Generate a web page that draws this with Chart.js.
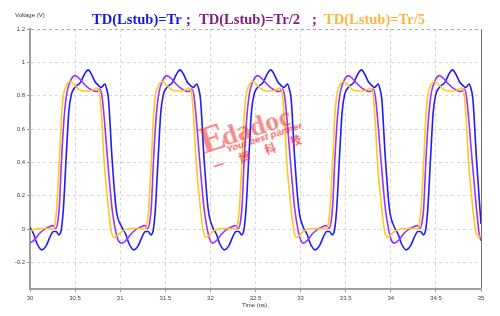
<!DOCTYPE html>
<html>
<head>
<meta charset="utf-8">
<script src="https://cdn.jsdelivr.net/npm/chart.js@4.4.0/dist/chart.umd.min.js"></script>
<style>
	html, body { margin: 0; padding: 0; background: #fff; }
	#wrap { position: relative; width: 500px; height: 316px; overflow: hidden; }
	#chart { position: absolute; left: 0; top: 0; }
	.title { position: absolute; top: 11px; font: bold 15px 'Liberation Serif', serif; white-space: pre; transform-origin: 0 0; transform: scaleX(0.97); }
	.axis-label { position: absolute; font: 6px 'Liberation Sans', sans-serif; color: #333; white-space: nowrap; }
	#mark { position: absolute; left: 203px; top: 151px; width: 0; height: 0; transform: rotate(-18deg); transform-origin: 0 0; color: rgba(236, 45, 45, 0.55); white-space: nowrap; line-height: 1; }
	#mark span { position: absolute; }
	#mark .big { left: 0; top: -32px; font: bold 38px 'Liberation Serif', serif; }
	#mark .word { left: 22px; top: -23px; font: bold 28px 'Liberation Serif', serif; }
	#mark .sub { left: 23px; top: 0; font: italic bold 9.5px 'Liberation Sans', sans-serif; color: rgba(236, 45, 45, 0.75); }
	#mark .cn { left: 5px; top: 10px; font: bold 11px 'Noto Sans CJK SC', sans-serif; letter-spacing: 16px; color: rgba(236, 45, 45, 0.75); }
</style>
</head>
<body>
<div id="wrap">
	<canvas id="chart" width="500" height="316"></canvas>
	<div class="axis-label" style="left: 15px; top: 12px;">Voltage (V)</div>
	<div class="axis-label" style="left: 242px; top: 302px;">Time (ns)</div>
	<div class="title" style="left: 92px; color: #1818e0;">TD(Lstub)=Tr</div>
	<div class="title" style="left: 186px; color: #1818e0;">;</div>
	<div class="title" style="left: 199px; color: #861a86;">TD(Lstub)=Tr/2</div>
	<div class="title" style="left: 312px; color: #861a86;">;</div>
	<div class="title" style="left: 324px; color: #ffb43c;">TD(Lstub)=Tr/5</div>
	<div id="mark"><span class="big">E</span><span class="word">dadoc</span><span class="sub">Your best partner</span><span class="cn">一博科技</span></div>
</div>
<script>
// tick positions
const xTicks = [30, 30.5, 31, 31.5, 32, 32.5, 33, 33.5, 34, 34.5, 35];
const yTicks = [-0.2, 0, 0.2, 0.4, 0.6, 0.8, 1, 1.2];

// [time ns, voltage V]
const blueWave = [
	[30.00, 0.01], [30.04, -0.03], [30.08, -0.09], [30.13, -0.125], [30.18, -0.10], [30.22, -0.05], [30.26, -0.015], [30.29, -0.015], [30.32, -0.035], [30.345, -0.01],
	[30.37, 0.12], [30.40, 0.42], [30.43, 0.70], [30.46, 0.81], [30.50, 0.85], [30.56, 0.88], [30.61, 0.935], [30.645, 0.955], [30.68, 0.93], [30.72, 0.885],
	[30.76, 0.86], [30.79, 0.85], [30.83, 0.87], [30.85, 0.84], [30.87, 0.78], [30.91, 0.42], [30.955, 0.12],
	[31.02, 0.01], [31.06, -0.03], [31.10, -0.09], [31.15, -0.125], [31.20, -0.10], [31.24, -0.05], [31.28, -0.015], [31.31, -0.015], [31.34, -0.035], [31.365, -0.01],
	[31.39, 0.12], [31.42, 0.42], [31.45, 0.70], [31.48, 0.81], [31.52, 0.85], [31.58, 0.88], [31.63, 0.935], [31.665, 0.955], [31.70, 0.93], [31.74, 0.885],
	[31.78, 0.86], [31.81, 0.85], [31.85, 0.87], [31.87, 0.84], [31.89, 0.78], [31.93, 0.42], [31.975, 0.12],
	[32.025, 0.01], [32.065, -0.03], [32.105, -0.09], [32.155, -0.125], [32.205, -0.10], [32.245, -0.05], [32.285, -0.015], [32.315, -0.015], [32.345, -0.035], [32.37, -0.01],
	[32.395, 0.12], [32.425, 0.42], [32.455, 0.70], [32.485, 0.81], [32.525, 0.85], [32.585, 0.88], [32.635, 0.935], [32.67, 0.955], [32.705, 0.93], [32.745, 0.885],
	[32.785, 0.86], [32.815, 0.85], [32.855, 0.87], [32.875, 0.84], [32.895, 0.78], [32.935, 0.42], [32.98, 0.12],
	[33.03, 0.01], [33.07, -0.03], [33.11, -0.09], [33.16, -0.125], [33.21, -0.10], [33.25, -0.05], [33.29, -0.015], [33.32, -0.015], [33.35, -0.035], [33.375, -0.01],
	[33.40, 0.12], [33.43, 0.42], [33.46, 0.70], [33.49, 0.81], [33.53, 0.85], [33.59, 0.88], [33.64, 0.935], [33.675, 0.955], [33.71, 0.93], [33.75, 0.885],
	[33.79, 0.86], [33.82, 0.85], [33.86, 0.87], [33.88, 0.84], [33.90, 0.78], [33.94, 0.42], [33.985, 0.12],
	[34.04, 0.01], [34.08, -0.03], [34.12, -0.09], [34.17, -0.125], [34.22, -0.10], [34.26, -0.05], [34.30, -0.015], [34.33, -0.015], [34.36, -0.035], [34.385, -0.01],
	[34.41, 0.12], [34.44, 0.42], [34.47, 0.70], [34.50, 0.81], [34.54, 0.85], [34.60, 0.88], [34.65, 0.935], [34.685, 0.955], [34.72, 0.93], [34.76, 0.885],
	[34.80, 0.86], [34.83, 0.85], [34.87, 0.87], [34.89, 0.84], [34.91, 0.78], [34.95, 0.42], [35.00, 0.03]
];

const purpleWave = [
	[30.00, -0.085], [30.05, -0.065], [30.10, -0.03], [30.15, -0.005], [30.20, 0.01], [30.255, 0.02], [30.285, 0.003], [30.31, 0.05], [30.326, 0.14], [30.35, 0.42],
	[30.38, 0.68], [30.41, 0.82], [30.45, 0.89], [30.50, 0.92], [30.55, 0.90], [30.60, 0.87], [30.65, 0.845], [30.70, 0.83], [30.74, 0.825], [30.775, 0.84],
	[30.80, 0.79], [30.83, 0.62], [30.86, 0.42], [30.91, 0.12], [30.945, 0.0], [30.975, -0.065],
	[31.02, -0.085], [31.07, -0.065], [31.12, -0.03], [31.17, -0.005], [31.22, 0.01], [31.275, 0.02], [31.305, 0.003], [31.33, 0.05], [31.346, 0.14], [31.37, 0.42],
	[31.40, 0.68], [31.43, 0.82], [31.47, 0.89], [31.52, 0.92], [31.57, 0.90], [31.62, 0.87], [31.67, 0.845], [31.72, 0.83], [31.76, 0.825], [31.795, 0.84],
	[31.82, 0.79], [31.85, 0.62], [31.88, 0.42], [31.93, 0.12], [31.965, 0.0], [31.995, -0.065],
	[32.025, -0.085], [32.075, -0.065], [32.125, -0.03], [32.175, -0.005], [32.225, 0.01], [32.28, 0.02], [32.31, 0.003], [32.335, 0.05], [32.351, 0.14], [32.375, 0.42],
	[32.405, 0.68], [32.435, 0.82], [32.475, 0.89], [32.525, 0.92], [32.575, 0.90], [32.625, 0.87], [32.675, 0.845], [32.725, 0.83], [32.765, 0.825], [32.80, 0.84],
	[32.825, 0.79], [32.855, 0.62], [32.885, 0.42], [32.935, 0.12], [32.97, 0.0], [33.00, -0.065],
	[33.03, -0.085], [33.08, -0.065], [33.13, -0.03], [33.18, -0.005], [33.23, 0.01], [33.285, 0.02], [33.315, 0.003], [33.34, 0.05], [33.356, 0.14], [33.38, 0.42],
	[33.41, 0.68], [33.44, 0.82], [33.48, 0.89], [33.53, 0.92], [33.58, 0.90], [33.63, 0.87], [33.68, 0.845], [33.73, 0.83], [33.77, 0.825], [33.805, 0.84],
	[33.83, 0.79], [33.86, 0.62], [33.89, 0.42], [33.94, 0.12], [33.975, 0.0], [34.005, -0.065],
	[34.04, -0.085], [34.09, -0.065], [34.14, -0.03], [34.19, -0.005], [34.24, 0.01], [34.295, 0.02], [34.325, 0.003], [34.35, 0.05], [34.366, 0.14], [34.39, 0.42],
	[34.42, 0.68], [34.45, 0.82], [34.49, 0.89], [34.54, 0.92], [34.59, 0.90], [34.64, 0.87], [34.69, 0.845], [34.74, 0.83], [34.78, 0.825], [34.815, 0.84],
	[34.84, 0.79], [34.87, 0.62], [34.90, 0.42], [34.95, 0.12], [34.98, -0.03], [35.00, -0.07]
];

const yellowWave = [
	[30.00, -0.015], [30.05, -0.002], [30.12, 0.003], [30.20, 0.003], [30.26, 0.0], [30.28, 0.04], [30.296, 0.12], [30.326, 0.42], [30.35, 0.68], [30.37, 0.80],
	[30.40, 0.86], [30.45, 0.885], [30.50, 0.86], [30.55, 0.835], [30.61, 0.828], [30.68, 0.83], [30.745, 0.845], [30.775, 0.80], [30.80, 0.62], [30.82, 0.42],
	[30.87, 0.12], [30.90, -0.01], [30.93, -0.05], [30.96, -0.04],
	[31.02, -0.015], [31.07, -0.002], [31.14, 0.003], [31.22, 0.003], [31.28, 0.0], [31.30, 0.04], [31.316, 0.12], [31.346, 0.42], [31.37, 0.68], [31.39, 0.80],
	[31.42, 0.86], [31.47, 0.885], [31.52, 0.86], [31.57, 0.835], [31.63, 0.828], [31.70, 0.83], [31.765, 0.845], [31.795, 0.80], [31.82, 0.62], [31.84, 0.42],
	[31.89, 0.12], [31.92, -0.01], [31.95, -0.05], [31.98, -0.04],
	[32.025, -0.015], [32.075, -0.002], [32.145, 0.003], [32.225, 0.003], [32.285, 0.0], [32.305, 0.04], [32.321, 0.12], [32.351, 0.42], [32.375, 0.68], [32.395, 0.80],
	[32.425, 0.86], [32.475, 0.885], [32.525, 0.86], [32.575, 0.835], [32.635, 0.828], [32.705, 0.83], [32.77, 0.845], [32.80, 0.80], [32.825, 0.62], [32.845, 0.42],
	[32.895, 0.12], [32.925, -0.01], [32.955, -0.05], [32.985, -0.04],
	[33.03, -0.015], [33.08, -0.002], [33.15, 0.003], [33.23, 0.003], [33.29, 0.0], [33.31, 0.04], [33.326, 0.12], [33.356, 0.42], [33.38, 0.68], [33.40, 0.80],
	[33.43, 0.86], [33.48, 0.885], [33.53, 0.86], [33.58, 0.835], [33.64, 0.828], [33.71, 0.83], [33.775, 0.845], [33.805, 0.80], [33.83, 0.62], [33.85, 0.42],
	[33.90, 0.12], [33.93, -0.01], [33.96, -0.05], [33.99, -0.04],
	[34.04, -0.015], [34.09, -0.002], [34.16, 0.003], [34.24, 0.003], [34.30, 0.0], [34.32, 0.04], [34.336, 0.12], [34.366, 0.42], [34.39, 0.68], [34.41, 0.80],
	[34.44, 0.86], [34.49, 0.885], [34.54, 0.86], [34.59, 0.835], [34.65, 0.828], [34.72, 0.83], [34.785, 0.845], [34.815, 0.80], [34.84, 0.62], [34.86, 0.42],
	[34.91, 0.12], [34.94, -0.01], [34.97, -0.05], [35.00, -0.04]
];

const tickFont = { family: 'Liberation Sans', size: 6 };

const config = {
	type: 'line',
	data: {
		datasets: [
			{ label: 'TD(Lstub)=Tr/5', data: yellowWave, borderColor: '#ffc81e' },
			{ label: 'TD(Lstub)=Tr/2', data: purpleWave, borderColor: '#9b33ff' },
			{ label: 'TD(Lstub)=Tr', data: blueWave, borderColor: '#1c1cff' }
		]
	},
	options: {
		responsive: false,
		animation: false,
		devicePixelRatio: 1,
		layout: { padding: { left: 0, right: 19, top: 29, bottom: 0 } },
		plugins: { legend: { display: false }, tooltip: { enabled: false } },
		elements: {
			point: { radius: 0 },
			line: { borderWidth: 1.6, cubicInterpolationMode: 'monotone', fill: false }
		},
		scales: {
			x: {
				type: 'linear',
				min: 30,
				max: 35,
				afterBuildTicks: (s) => { s.ticks = xTicks.map((v) => ({ value: v })); },
				afterFit: (s) => { s.height = 27; },
				ticks: { font: tickFont, color: '#444', padding: 3, maxRotation: 0, autoSkip: false, callback: (v) => String(v) },
				grid: {
					color: (c) => (c.tick && c.tick.value === 35 ? '#707070' : '#d6d6d6'),
					tickLength: 3,
					tickColor: '#999'
				},
				border: { color: '#a0a0a0', width: 2, dash: (c) => (c.tick && c.tick.value === 35 ? [] : [3, 3]) }
			},
			y: {
				min: -0.36,
				max: 1.2,
				afterBuildTicks: (s) => { s.ticks = yTicks.map((v) => ({ value: v })); },
				afterFit: (s) => { s.width = 30; },
				ticks: { font: tickFont, color: '#444', padding: 2, autoSkip: false, callback: (v) => String(v) },
				grid: {
					color: (c) => (c.tick && c.tick.value === 1.2 ? '#a8a8a8' : '#d6d6d6'),
					tickLength: 3,
					tickColor: '#999'
				},
				border: { color: '#a0a0a0', width: 2, dash: [3, 3] }
			}
		}
	}
};

new Chart(document.getElementById('chart'), config);
</script>
</body>
</html>
